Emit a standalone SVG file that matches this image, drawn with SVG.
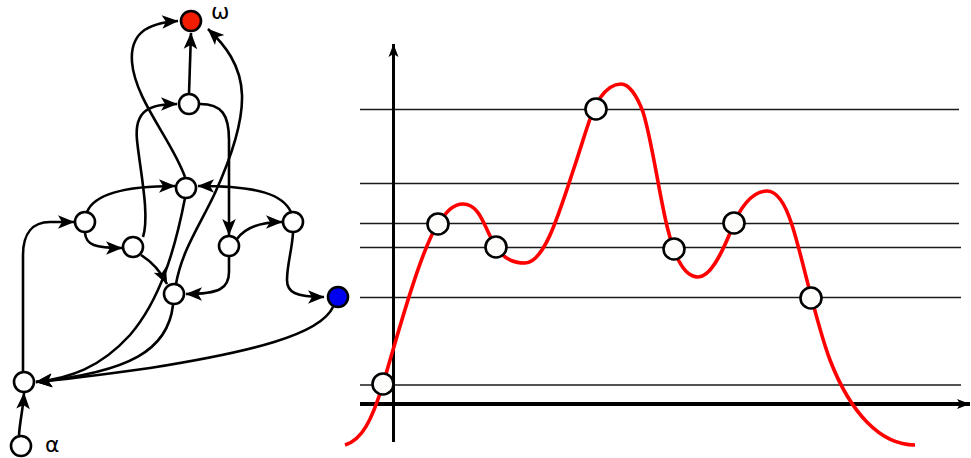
<svg xmlns="http://www.w3.org/2000/svg" width="971" height="458" viewBox="0 0 971 458">
<style>
.edge{fill:none;stroke:#000;stroke-width:2.6;marker-end:url(#arr)}
.node{fill:#fff;stroke:#000;stroke-width:2.6}
.hl{stroke:#1a1a1a;stroke-width:1.6}
.pt{fill:#fdfdfb;stroke:#000;stroke-width:2.6}
.lbl{font-family:"DejaVu Sans",sans-serif;font-size:22px;fill:#000}
</style>
<defs>
<marker id="arr" viewBox="-18 -8 19 16" markerWidth="19" markerHeight="16" refX="0" refY="0" markerUnits="userSpaceOnUse" orient="auto">
<path d="M0.5,0 L-16,-6.8 L-12,0 L-16,6.8 Z" fill="#000"/>
</marker>
<marker id="axarr" viewBox="-14 -6 15 12" markerWidth="15" markerHeight="12" refX="0" refY="0" markerUnits="userSpaceOnUse" orient="auto">
<path d="M0,0 L-13,-5 L-10,0 L-13,5 Z" fill="#000"/>
</marker>
</defs>
<g id="connectors">
<path class="edge" d="M19,435 C20,420 23,410 24,393"/>
<path class="edge" d="M23,371 L23,255 C23,233 33,222 50,222 L74,222"/>
<path class="edge" d="M85,233 C86,245 95,248 122,248"/>
<path class="edge" d="M87,212 C95,192 130,186 175,186"/>
<path class="edge" d="M143,237 C150,215 140,170 137,140 C134,110 150,104 177,104"/>
<path class="edge" d="M141,255 C152,262 160,270 167,284"/>
<path class="edge" d="M189,94 L191,33"/>
<path class="edge" d="M200,104 C222,104 229,115 229,140 L229,235"/>
<path class="edge" d="M185,177 C172,140 135,100 132,62 C130,35 145,23 178,21"/>
<path class="edge" d="M176,284 C182,250 200,225 215,193 C230,160 243,125 242,95 C241,65 225,45 208,29"/>
<path class="edge" d="M291,212 C283,195 260,186 198,186"/>
<path class="edge" d="M237,239 C245,228 258,222 282,222"/>
<path class="edge" d="M229,257 L229,272 C229,288 220,294 186,294"/>
<path class="edge" d="M293,233 C292,250 287,265 287,280 C287,292 295,297 324,297"/>
<path class="edge" d="M185,198 C175,250 160,300 130,335 C100,368 70,378 36,382"/>
<path class="edge" d="M173,305 C168,350 130,372 36,382"/>
<path class="edge" d="M333,307 C320,335 250,352 150,368 C100,375 60,380 36,382"/>
</g>
<g id="omega"><circle cx="191" cy="21" r="10" fill="#f21c00" stroke="#000" stroke-width="2.6"/><text class="lbl" x="211" y="19">ω</text></g>
<g id="nA"><circle class="node" cx="189" cy="104" r="10"/></g>
<g id="nB"><circle class="node" cx="186" cy="188" r="10"/></g>
<g id="nC"><circle class="node" cx="85" cy="222" r="10"/></g>
<g id="nD"><circle class="node" cx="133" cy="247" r="10"/></g>
<g id="nE"><circle class="node" cx="174" cy="294" r="10"/></g>
<g id="nF"><circle class="node" cx="229" cy="246" r="10"/></g>
<g id="nG"><circle class="node" cx="293" cy="222" r="10"/></g>
<g id="nBlue"><circle cx="338" cy="297" r="10" fill="#0000f0" stroke="#000" stroke-width="2.6"/></g>
<g id="nH"><circle class="node" cx="24" cy="382" r="10"/></g>
<g id="alpha"><circle class="node" cx="21" cy="446" r="10"/><text class="lbl" x="45" y="452">α</text></g>
<g id="chart">
<line class="hl" x1="360" y1="109.5" x2="959" y2="109.5"/>
<line class="hl" x1="360" y1="183.5" x2="959" y2="183.5"/>
<line class="hl" x1="360" y1="223.5" x2="959" y2="223.5"/>
<line class="hl" x1="360" y1="247.5" x2="961" y2="247.5"/>
<line class="hl" x1="360" y1="297.5" x2="961" y2="297.5"/>
<line class="hl" x1="360" y1="385" x2="961" y2="385"/>
<line x1="393.5" y1="442" x2="393.5" y2="44" stroke="#000" stroke-width="3" marker-end="url(#axarr)"/>
<line x1="360" y1="404" x2="970" y2="404" stroke="#000" stroke-width="4" marker-end="url(#axarr)"/>
<path d="M345,445 C362,440 372,420 383,384 S420,250 438,224 C447,211 453,204 463,204 C478,204 483,222 492,240 C500,256 510,263 525,263 C545,263 560,210 575,165 C585,135 592,108 600,98 C607,88 613,84 621,84 C629,84 637,96 643,112 C652,140 660,200 668,230 C675,258 685,277 698,277 C710,277 721,255 730,233 C739,208 752,191 767,191 C777,191 785,203 792,225 C802,255 815,320 830,360 C850,412 880,445 915,445" fill="none" stroke="#f00" stroke-width="3.6"/>
<circle class="pt" cx="383" cy="384" r="10.5"/>
<circle class="pt" cx="438" cy="224" r="10.5"/>
<circle class="pt" cx="496" cy="247" r="10.5"/>
<circle class="pt" cx="596" cy="109" r="10.5"/>
<circle class="pt" cx="674" cy="249" r="10.5"/>
<circle class="pt" cx="734" cy="223" r="10.5"/>
<circle class="pt" cx="811" cy="298" r="10.5"/>
</g>
</svg>
